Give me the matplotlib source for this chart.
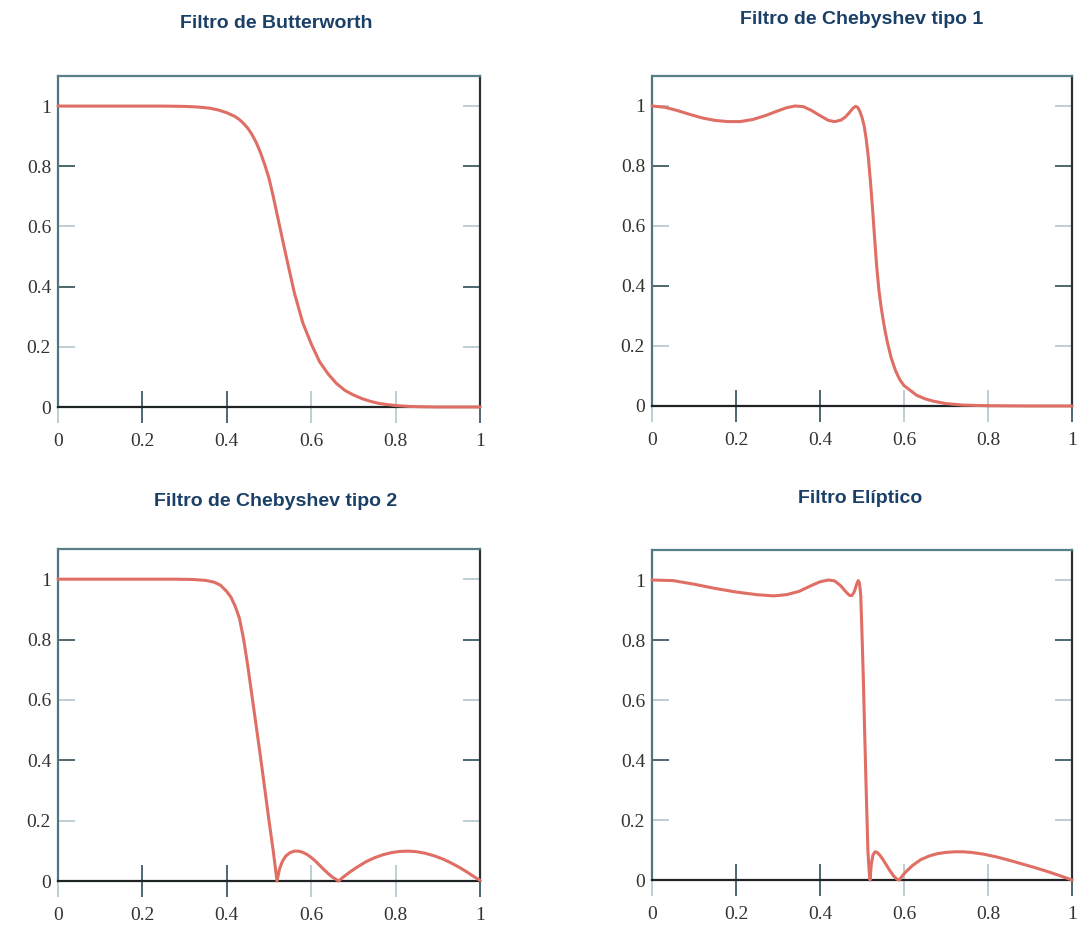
import matplotlib
matplotlib.use("Agg")
import matplotlib.pyplot as plt

# Magnitude responses read at sample frequencies (normalised 0..1)
butter_x = [0, 0.1, 0.2, 0.25, 0.3, 0.33, 0.36, 0.38, 0.40, 0.42, 0.43, 0.44,
            0.45, 0.46, 0.47, 0.48, 0.49, 0.50, 0.51, 0.52, 0.54, 0.56, 0.58,
            0.60, 0.62, 0.64, 0.66, 0.68, 0.70, 0.72, 0.74, 0.76, 0.78, 0.80,
            0.83, 0.86, 0.9, 1.0]
butter_y = [1, 1, 1, 1, 0.999, 0.997, 0.993, 0.987, 0.978, 0.965, 0.955, 0.942,
            0.926, 0.905, 0.878, 0.845, 0.805, 0.76, 0.70, 0.635, 0.505, 0.38,
            0.28, 0.21, 0.15, 0.11, 0.078, 0.055, 0.04, 0.028, 0.019, 0.012,
            0.008, 0.005, 0.002, 0.001, 0, 0]

cheb1_x = [0, 0.03, 0.06, 0.09, 0.12, 0.15, 0.18, 0.21, 0.24, 0.27, 0.30, 0.32,
           0.34, 0.36, 0.38, 0.40, 0.42, 0.435, 0.45, 0.46, 0.47, 0.478, 0.485,
           0.49, 0.495, 0.50, 0.505, 0.51, 0.515, 0.52, 0.525, 0.53, 0.535,
           0.54, 0.545, 0.55, 0.555, 0.56, 0.57, 0.58, 0.59, 0.60, 0.615, 0.63,
           0.65, 0.67, 0.70, 0.74, 0.8, 0.9, 1.0]
cheb1_y = [1.0, 0.996, 0.985, 0.972, 0.96, 0.952, 0.948, 0.948, 0.955, 0.968,
           0.984, 0.994, 1.0, 0.998, 0.985, 0.968, 0.952, 0.948, 0.953, 0.963,
           0.978, 0.992, 0.999, 0.995, 0.982, 0.962, 0.935, 0.89, 0.83, 0.75,
           0.66, 0.56, 0.465, 0.39, 0.335, 0.29, 0.25, 0.215, 0.158, 0.117,
           0.088, 0.068, 0.052, 0.036, 0.024, 0.016, 0.008, 0.003, 0.001, 0, 0]

cheb2_x = [0, 0.1, 0.2, 0.28, 0.32, 0.35, 0.37, 0.385, 0.40, 0.41, 0.42, 0.43,
           0.44, 0.45, 0.46, 0.47, 0.48, 0.49, 0.50, 0.51, 0.519, 0.525, 0.532,
           0.54, 0.55, 0.56, 0.57, 0.58, 0.59, 0.60, 0.61, 0.62, 0.63, 0.64,
           0.65, 0.665, 0.675, 0.69, 0.71, 0.73, 0.75, 0.77, 0.79, 0.81, 0.83,
           0.85, 0.87, 0.89, 0.91, 0.93, 0.95, 0.97, 0.985, 1.0]
cheb2_y = [1, 1, 1, 1, 0.999, 0.996, 0.99, 0.98, 0.959, 0.94, 0.91, 0.87,
           0.80, 0.71, 0.61, 0.51, 0.41, 0.305, 0.20, 0.10, 0.0, 0.04, 0.066,
           0.083, 0.094, 0.099, 0.099, 0.095, 0.088, 0.078, 0.066, 0.052, 0.038,
           0.025, 0.013, 0.0, 0.012, 0.028, 0.047, 0.064, 0.077, 0.087, 0.094,
           0.098, 0.099, 0.097, 0.092, 0.084, 0.074, 0.061, 0.046, 0.029, 0.015,
           0.002]

ellip_x = [0, 0.05, 0.1, 0.15, 0.2, 0.25, 0.29, 0.32, 0.35, 0.38, 0.40, 0.42,
           0.435, 0.45, 0.46, 0.47, 0.476, 0.482, 0.487, 0.491, 0.494, 0.497,
           0.50, 0.503, 0.506, 0.51, 0.514, 0.517, 0.519, 0.522, 0.526, 0.531,
           0.536, 0.543, 0.55, 0.558, 0.566, 0.575, 0.583, 0.589, 0.595, 0.605,
           0.62, 0.64, 0.66, 0.68, 0.70, 0.72, 0.74, 0.76, 0.79, 0.82, 0.85,
           0.88, 0.91, 0.94, 0.97, 1.0]
ellip_y = [1.0, 0.998, 0.986, 0.972, 0.96, 0.951, 0.947, 0.951, 0.962, 0.982,
           0.994, 1.0, 0.997, 0.98, 0.963, 0.949, 0.948, 0.962, 0.985, 0.998,
           0.99, 0.95, 0.82, 0.68, 0.511, 0.30, 0.10, 0.03, 0.0, 0.05, 0.083,
           0.094, 0.092, 0.082, 0.068, 0.05, 0.032, 0.014, 0.003, 0.0, 0.012,
           0.028, 0.048, 0.068, 0.08, 0.088, 0.092, 0.094, 0.094, 0.092, 0.086,
           0.077, 0.066, 0.054, 0.042, 0.029, 0.015, 0.0]

titles = ["Filtro de Butterworth", "Filtro de Chebyshev tipo 1",
          "Filtro de Chebyshev tipo 2", "Filtro Elíptico"]
curves = [(butter_x, butter_y), (cheb1_x, cheb1_y),
          (cheb2_x, cheb2_y), (ellip_x, ellip_y)]

x_ticks = [0, 0.2, 0.4, 0.6, 0.8, 1]
x_labels = ["0", "0.2", "0.4", "0.6", "0.8", "1"]
y_ticks = [0, 0.2, 0.4, 0.6, 0.8, 1]
y_labels = ["0", "0.2", "0.4", "0.6", "0.8", "1"]

W, H = 1079, 930
# axes boxes in pixels: left, right, top, y=0 line
boxes = [(58, 480, 76, 407), (652, 1072, 76, 406),
         (58, 480, 549, 881), (652, 1072, 550, 880)]
title_pos = [(276, 23), (862, 19), (276, 501), (860, 498)]

line_color = "#df6e64"
dark_tick = "#2e4f55"
light_tick = "#b4c6cb"

fig = plt.figure(figsize=(W / 100, H / 100), dpi=100)

for i in range(4):
    l, r, t, b = boxes[i]
    ax = fig.add_axes([l / W, 1 - b / H, (r - l) / W, (b - t) / H])
    xs, ys = curves[i]
    ax.plot(xs, ys, color=line_color, lw=2.2, solid_joinstyle="round",
            solid_capstyle="round", zorder=3, clip_on=False)
    ax.set_xlim(0, 1)
    ax.set_ylim(0, 1.1)

    ax.spines["top"].set_color("#587f89")
    ax.spines["left"].set_color("#4f7580")
    ax.spines["right"].set_color("#2a3236")
    ax.spines["bottom"].set_color("#1e2426")
    for s in ax.spines.values():
        s.set_linewidth(1.6)

    ax.set_xticks(x_ticks)
    ax.set_xticklabels(x_labels)
    ax.set_yticks(y_ticks)
    ax.set_yticklabels(y_labels)
    ax.tick_params(axis="x", direction="inout", length=23, width=1.2, pad=7)
    ax.tick_params(axis="y", direction="in", length=12, width=1.2, pad=5,
                   right=True)
    # tick marks are markers, so colour them through the edge colour
    for k, tk in enumerate(ax.xaxis.get_major_ticks()):
        c = dark_tick if k in (1, 2, 5) else light_tick
        tk.tick1line.set_markeredgecolor(c)
    for k, tk in enumerate(ax.yaxis.get_major_ticks()):
        c = dark_tick if k in (2, 4) else light_tick
        tk.tick1line.set_markeredgecolor(c)
        tk.tick2line.set_markeredgecolor(c)
        if k == 0:
            tk.tick1line.set_visible(False)
            tk.tick2line.set_visible(False)

    for lab in ax.get_xticklabels() + ax.get_yticklabels():
        lab.set_family("Liberation Serif")
        lab.set_fontsize(14)
        lab.set_color("#333333")

    tx, ty = title_pos[i]
    fig.text(tx / W, 1 - ty / H, titles[i], ha="center", va="center",
             family="Liberation Sans", fontsize=14, color="#1b4068",
             fontweight="bold")

fig.savefig("out.png", dpi=100, facecolor="white")
